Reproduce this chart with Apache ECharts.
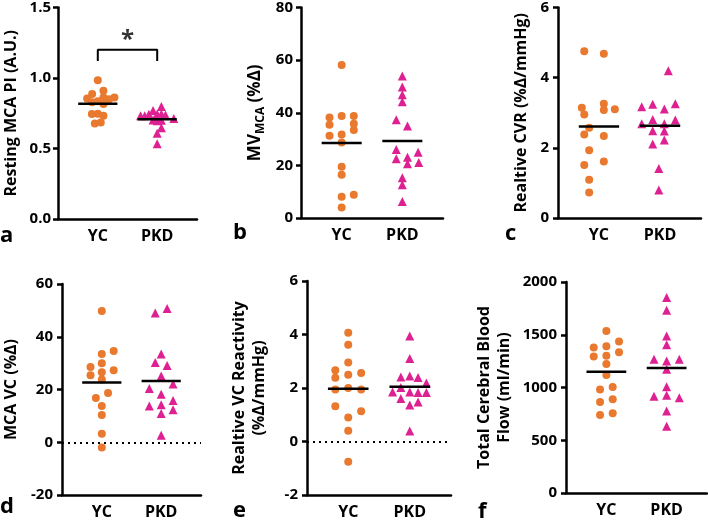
<!DOCTYPE html>
<html><head><meta charset="utf-8">
<script src="https://cdn.jsdelivr.net/npm/echarts@6/dist/echarts.min.js"></script>
<style>html,body{margin:0;padding:0;background:#fff}#c{width:708px;height:529px}</style>
</head><body><div id="c"></div>
<script>
// ---------- data ----------
const groups = ['YC', 'PKD'];
const panelLetters = ['a', 'b', 'c', 'd', 'e', 'f'];

// a: Resting MCA PI
const aYC = [0.984, 0.887, 0.910, 0.854, 0.861, 0.849, 0.861, 0.828, 0.835, 0.816, 0.745, 0.747, 0.733, 0.677, 0.684];
const aYCjit = [0, -0.095, 0.095, -0.18, 0.095, 0.19, 0.28, -0.095, 0, 0.095, -0.1, 0, 0.095, -0.05, 0.05];
const aPKD = [0.797, 0.769, 0.733, 0.733, 0.743, 0.745, 0.745, 0.738, 0.712, 0.703, 0.696, 0.700, 0.648, 0.609, 0.533];
const aPKDjit = [0.07, -0.07, -0.28, -0.21, -0.14, 0, 0.07, 0.14, 0.28, -0.07, 0, 0.07, 0.07, 0, 0];
const bracketX = [1, 1, 2, 2];
const bracketY = [1.12, 1.2, 1.2, 1.12];
const starPos = [1.5, 1.27];

// b: MV_MCA
const bYC = [58.1, 38.2, 38.8, 38.8, 35.4, 35.8, 33.4, 31.3, 31.7, 28.7, 19.5, 16.4, 8.1, 8.8, 4.0];
const bYCjit = [0, -0.2, 0, 0.2, -0.2, 0.2, 0.2, -0.2, 0, 0, 0, 0, 0, 0.2, 0];
const bPKD = [54.0, 49.8, 46.8, 44.2, 37.3, 35.0, 26.0, 22.5, 23.1, 20.6, 25.0, 21.1, 15.3, 12.6, 6.3];
const bPKDjit = [0, 0, 0, 0, -0.1, 0.085, -0.1, -0.1, 0.085, 0.085, 0.26, 0.27, 0, 0, 0];

// c: Relative CVR
const cYC = [4.75, 4.68, 3.14, 3.26, 2.95, 3.08, 3.10, 2.57, 2.38, 2.34, 1.93, 1.51, 1.61, 1.09, 0.73];
const cYCjit = [-0.24, 0.08, -0.28, 0.08, -0.24, 0.08, 0.26, -0.16, -0.24, 0.08, -0.16, -0.24, 0.08, -0.16, -0.16];
const cPKD = [4.20, 3.17, 3.24, 3.11, 3.26, 2.69, 2.81, 2.79, 2.69, 2.49, 2.48, 2.11, 2.22, 1.41, 0.80];
const cPKDjit = [0.135, -0.30, -0.12, 0.07, 0.25, -0.30, -0.12, 0.25, 0.07, -0.12, 0.07, -0.12, 0.07, -0.02, -0.02];

// d: MCA VC
const dYC = [49.75, 34.6, 33.5, 30.0, 28.5, 27.3, 25.4, 26.5, 23.8, 18.7, 16.8, 13.7, 10.3, 3.2, -2.0];
const dYCjit = [0, 0.2, 0, 0, -0.19, 0.2, -0.19, 0, 0, 0.105, -0.1, 0, 0, 0, 0];
const dPKD = [50.7, 49.0, 33.5, 30.2, 29.1, 25.1, 22.1, 20.4, 18.2, 15.8, 13.7, 14.2, 12.3, 10.9, 2.7];
const dPKDjit = [0.1, -0.1, 0, -0.1, 0.1, 0, 0.2, -0.2, 0, 0.2, -0.2, 0, 0.2, 0, 0];

// e: Relative VC Reactivity
const eYC = [4.07, 3.62, 2.95, 2.66, 2.38, 2.50, 2.56, 1.94, 2.00, 1.94, 1.32, 1.13, 0.90, 0.40, -0.76];
const eYCjit = [0, 0, 0, -0.21, -0.21, 0, 0.21, -0.21, 0, 0.21, -0.21, 0.21, 0, 0, 0];
const ePKD = [3.94, 3.10, 2.41, 2.45, 2.39, 2.19, 1.85, 2.02, 1.85, 1.83, 1.83, 1.61, 1.36, 1.48, 0.39];
const ePKDjit = [0, 0, -0.145, 0, 0.135, 0.27, -0.28, -0.145, 0, 0.135, 0.27, -0.145, 0, 0.135, 0];

// f: Total Cerebral Blood Flow
const fYC = [1536, 1378, 1390, 1435, 1293, 1302, 1334, 1223, 1118, 980, 1005, 863, 888, 739, 755];
const fYCjit = [0, -0.21, 0, 0.21, -0.21, 0, 0.21, 0, 0, -0.105, 0.105, -0.105, 0.105, -0.105, 0.105];
const fPKD = [1852, 1732, 1488, 1406, 1267, 1251, 1267, 1172, 1008, 917, 926, 904, 777, 632];
const fPKDjit = [0, 0, 0, 0, -0.21, 0, 0.21, 0, 0, -0.21, 0, 0.21, 0, 0];

// y-axis ticks
const yTicks = [
  {min: 0, max: 1.5, interval: 0.5},
  {min: 0, max: 80, interval: 20},
  {min: 0, max: 6, interval: 2},
  {min: -20, max: 60, interval: 20},
  {min: -2, max: 6, interval: 2},
  {min: 0, max: 2000, interval: 500}
];

// ---------- layout / style ----------
const ORANGE = '#E8792E', MAGENTA = '#DE2192';
const FONT = '"Open Sans", "Liberation Sans", Arial, sans-serif';
const panels = [
  {grid: {left: 53, top: 7, width: 144, height: 212}, yc: aYC, ycj: aYCjit, pkd: aPKD, pkdj: aPKDjit,
   name: 'Resting MCA PI (A.U.)', gap: 37, dec: 1, margin: 7, letter: [0, 239]},
  {grid: {left: 301, top: 7, width: 142, height: 211}, yc: bYC, ycj: bYCjit, pkd: bPKD, pkdj: bPKDjit,
   name: '{m|MV}{s|MCA}{m| (%Δ)}', rich: true, gap: 37, dec: 0, margin: 8, letter: [233, 236]},
  {grid: {left: 558, top: 7, width: 143, height: 211}, yc: cYC, ycj: cYCjit, pkd: cPKD, pkdj: cPKDjit,
   name: 'Realtive CVR (%Δ/mmHg)', gap: 27, dec: 0, margin: 9, letter: [505, 237]},
  {grid: {left: 60, top: 284, width: 141, height: 211}, yc: dYC, ycj: dYCjit, pkd: dPKD, pkdj: dPKDjit,
   name: 'MCA VC (%Δ)', gap: 41, dec: 0, margin: 9, zero: true, letter: [0, 510]},
  {grid: {left: 307, top: 281, width: 144, height: 214}, yc: eYC, ycj: eYCjit, pkd: ePKD, pkdj: ePKDjit,
   name: 'Realtive VC Reactivity\n(%Δ/mmHg)', gap: 38, dec: 0, margin: 9, zero: true, letter: [233, 514]},
  {grid: {left: 566, top: 282, width: 141, height: 211}, yc: fYC, ycj: fYCjit, pkd: fPKD, pkdj: fPKDjit,
   name: 'Total Cerebral Blood\nFlow (ml/min)', gap: 52, dec: 0, margin: 9, letter: [478, 515]}
];

function pts(vals, jit, g) { return vals.map((v, i) => [g + jit[i], v]); }
function mean(a) { return a.reduce((s, v) => s + v, 0) / a.length; }
const HALF = 0.33;

const grid = [], xAxis = [], yAxis = [], series = [], graphic = [];
panels.forEach((p, i) => {
  grid.push(p.grid);
  xAxis.push({
    type: 'value', gridIndex: i, min: 0.33, max: 2.67,
    splitLine: {show: false}, axisTick: {show: false},
    axisLine: {onZero: false, lineStyle: {color: '#000', width: 2.5}},
    axisLabel: {customValues: [1, 2], formatter: v => groups[Math.round(v) - 1],
      color: '#000', fontFamily: FONT, fontWeight: 'bold', fontSize: 16, margin: 9}
  });
  const t = yTicks[i];
  yAxis.push({
    type: 'value', gridIndex: i, min: t.min, max: t.max, interval: t.interval,
    splitLine: {show: false},
    axisLine: {show: true, onZero: false, lineStyle: {color: '#000', width: 2.5}},
    axisTick: {show: true, length: 5, lineStyle: {color: '#000', width: 2.5}},
    axisLabel: {color: '#000', fontFamily: FONT, fontWeight: 'bold', fontSize: 15, margin: p.margin,
      formatter: v => v.toFixed(p.dec)},
    name: p.name, nameLocation: 'middle', nameGap: p.gap, nameRotate: 90, nameMoveOverlap: false,
    nameTextStyle: p.rich ? {
      rich: {
        m: {fontFamily: FONT, fontWeight: 'bold', fontSize: 17, color: '#000', verticalAlign: 'bottom'},
        s: {fontFamily: FONT, fontWeight: 'bold', fontSize: 12, color: '#000', verticalAlign: 'bottom', padding: [0, 0, -3, 0]}
      }
    } : {fontFamily: FONT, fontWeight: 'bold', fontSize: 16, color: '#000', lineHeight: 20, align: 'center'}
  });
  const ycSeries = {
    type: 'scatter', xAxisIndex: i, yAxisIndex: i, symbol: 'circle', symbolSize: 8,
    itemStyle: {color: ORANGE, opacity: 1}, data: pts(p.yc, p.ycj, 1), z: 3
  };
  if (p.zero) {
    ycSeries.markLine = {silent: true, symbol: ['none', 'none'], label: {show: false},
      lineStyle: {type: [2, 4], width: 2, color: '#000'}, data: [{yAxis: 0}], z: 1};
  }
  series.push(ycSeries);
  series.push({
    type: 'scatter', xAxisIndex: i, yAxisIndex: i, symbol: 'triangle', symbolSize: 9,
    itemStyle: {color: MAGENTA, opacity: 1}, data: pts(p.pkd, p.pkdj, 2), z: 3
  });
  [[p.yc, 1], [p.pkd, 2]].forEach(([arr, g]) => {
    const m = mean(arr);
    series.push({type: 'line', xAxisIndex: i, yAxisIndex: i, symbol: 'none', silent: true,
      lineStyle: {color: '#000', width: 2.5}, data: [[g - HALF, m], [g + HALF, m]], z: 5});
  });
  graphic.push({type: 'text', left: p.letter[0], top: p.letter[1] - 14,
    style: {text: panelLetters[i], font: 'bold 22px ' + FONT, fill: '#000'}});
});

// significance bracket in panel a
series.push({type: 'line', xAxisIndex: 0, yAxisIndex: 0, symbol: 'none', silent: true,
  lineStyle: {color: '#000', width: 2}, data: bracketX.map((x, k) => [x, bracketY[k]])});
series.push({type: 'scatter', xAxisIndex: 0, yAxisIndex: 0, symbolSize: 0, silent: true,
  label: {show: true, position: 'inside', formatter: '*', color: '#000', fontFamily: FONT, fontWeight: 'bold', fontSize: 24},
  data: [starPos]});

const chart = echarts.init(document.getElementById('c'), null, {renderer: 'canvas'});
chart.setOption({animation: false, backgroundColor: '#fff', grid, xAxis, yAxis, series, graphic});
</script>
</body></html>
